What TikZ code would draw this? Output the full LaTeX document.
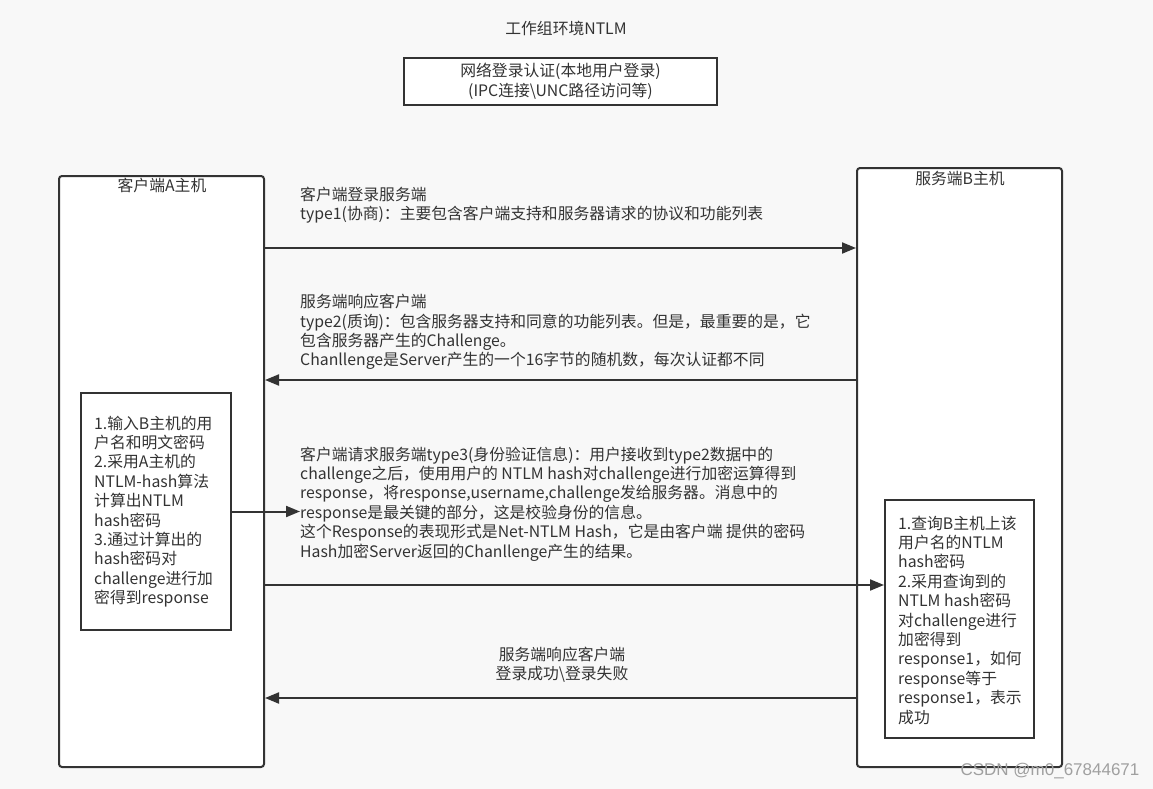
\documentclass[tikz,border=0pt]{standalone}
\usepackage{fontspec}
\setmainfont{Noto Sans CJK SC}
\newfontfamily\markfont{Liberation Sans}
\usetikzlibrary{arrows.meta}
\definecolor{bgcol}{HTML}{F8F8F8}
\definecolor{inkcol}{HTML}{333333}
\definecolor{markcol}{HTML}{A0A0A0}

\begin{document}
\begin{tikzpicture}[x=1pt, y=-1pt,
    every node/.style={text=inkcol, font=\fontsize{15.8}{19.4}\selectfont},
    hostbox/.style={draw=inkcol, line width=2pt, fill=white, rounded corners=3pt,
      minimum width=205pt, inner sep=0pt},
    stepbox/.style={draw=inkcol, line width=2pt, fill=white, inner sep=0pt},
    msgtext/.style={anchor=north west, align=left, inner sep=0pt},
    msg/.style={draw=inkcol, line width=2pt, -{Triangle[length=14pt,width=11pt]}}]

        %Background
        \path [fill=bgcol] (0,0) rectangle (1153,789);

        %Title
        \node (title) at (566,28) {工作组环境NTLM};
        \node [stepbox, minimum width=313pt, minimum height=47pt, align=center] (scene) at (560.5,81.5)
          {网络登录认证(本地用户登录)\\(IPC连接\textbackslash UNC路径访问等)};

        %Client host
        \node [hostbox, minimum height=591pt] (hostA) at (161.5,471.5) {};
        \node (hostAlabel) at (162,185) {客户端A主机};
        \node [stepbox, minimum width=150pt, minimum height=237pt] (calcA) at (156,511.5) {};
        \node [msgtext] (calcAtext) at (94,415.5)
          {1.输入B主机的用\\户名和明文密码\\2.采用A主机的\\NTLM-hash算法\\计算出NTLM\\hash密码\\3.通过计算出的\\hash密码对\\challenge进行加\\密得到response};

        %Server host
        \node [hostbox, minimum height=599pt] (hostB) at (959.5,467.5) {};
        \node (hostBlabel) at (960,179) {服务端B主机};
        \node [stepbox, minimum width=149pt, minimum height=238pt] (calcB) at (959.5,619) {};
        \node [msgtext] (calcBtext) at (898,515.5)
          {1.查询B主机上该\\用户名的NTLM\\hash密码\\2.采用查询到的\\NTLM hash密码\\对challenge进行\\加密得到\\response1，如何\\response等于\\response1，表示\\成功};

        %Messages
        \node [msgtext] (typeone) at (300,186.5)
          {客户端登录服务端\\type1(协商)：主要包含客户端支持和服务器请求的协议和功能列表};
        \node [msgtext] (typetwo) at (300,294)
          {服务端响应客户端\\type2(质询)：包含服务器支持和同意的功能列表。但是，最重要的是，它\\包含服务器产生的Challenge。\\Chanllenge是Server产生的一个16字节的随机数，每次认证都不同};
        \node [msgtext] (typethree) at (300,446.5)
          {客户端请求服务端type3(身份验证信息)：用户接收到type2数据中的\\challenge之后，使用用户的 NTLM hash对challenge进行加密运算得到\\response，将response,username,challenge发给服务器。消息中的\\response是最关键的部分，这是校验身份的信息。\\这个Response的表现形式是Net-NTLM Hash，它是由客户端 提供的密码\\Hash加密Server返回的Chanllenge产生的结果。};
        \node [align=center] (result) at (562,664.5) {服务端响应客户端\\登录成功\textbackslash 登录失败};

        %Arrows
        \coordinate (m1) at (560,248);
        \coordinate (m2) at (560,380);
        \coordinate (m4) at (560,585);
        \coordinate (m5) at (560,698);
        \draw [msg] (hostA.east |- m1) -- (hostB.west |- m1);
        \draw [msg] (hostB.west |- m2) -- (hostA.east |- m2);
        \draw [msg] (calcA.east) -- (calcA.east -| typethree.west);
        \draw [msg] (hostA.east |- m4) -- (calcB.west |- m4);
        \draw [msg] (hostB.west |- m5) -- (hostA.east |- m5);

        %Mark
        \node [font=\markfont\fontsize{17}{20}\selectfont, text=markcol] (mark) at (1050,771) {CSDN @m0\_67844671};

\end{tikzpicture}
\end{document}
